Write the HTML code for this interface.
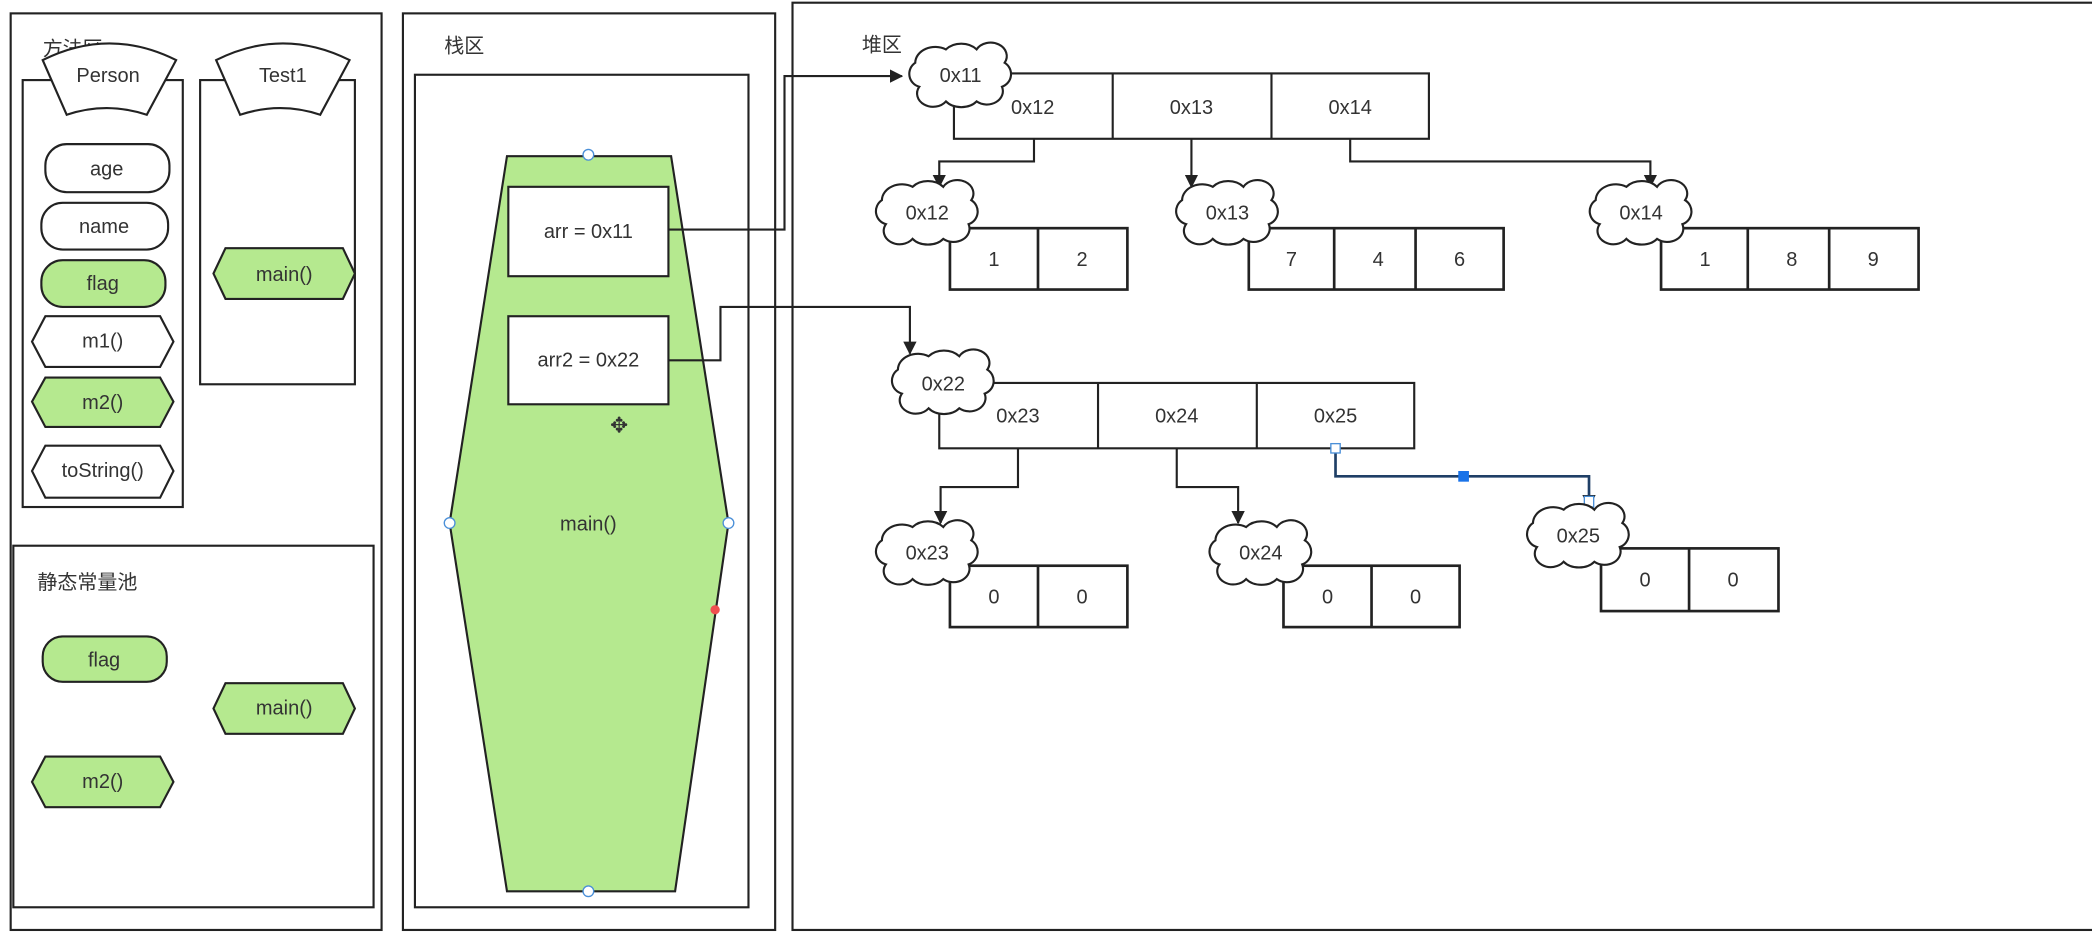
<!DOCTYPE html>
<html><head><meta charset="utf-8"><style>
html,body{margin:0;padding:0;background:#fff;}
svg{display:block;}
text{font-family:"Liberation Sans","Noto Sans CJK SC",sans-serif;font-size:15px;fill:#333;text-anchor:middle;dominant-baseline:central;}
</style></head><body>
<svg width="2092" height="944" viewBox="0 0 1568 707.5" xmlns="http://www.w3.org/2000/svg">
<defs>
<path id="cl" d="M -31,8 a10,10 0 0 1 -3,-18 a15,12 0 0 1 23,-10 a15,12 0 0 1 23,0 a12,10 0 0 1 21,10 a10,10 0 0 1 -2,18 a12,10 0 0 1 -19,11 a14,10 0 0 1 -23,0 a12,10 0 0 1 -20,-11 z" fill="#fff" stroke="#222" stroke-width="1.6"/>
<marker id="ar" markerWidth="10" markerHeight="10" refX="9" refY="5" orient="auto" markerUnits="userSpaceOnUse"><path d="M0,0 L10,5 L0,10 z" fill="#222"/></marker>
</defs>
<rect width="1568" height="707.5" fill="#fff"/>
<g fill="none" stroke="#222" stroke-width="1.6">
<rect x="8" y="10" width="278" height="687"/>
<rect x="17" y="60" width="120" height="320"/>
<rect x="150" y="60" width="116" height="228"/>
<rect x="10" y="409" width="270" height="271"/>
<rect x="302" y="10" width="279" height="687"/>
<rect x="311" y="56" width="250" height="624"/>
<rect x="594" y="2" width="980" height="695"/>
</g>
<text x="32" y="37" style="text-anchor:start">方法区</text>
<path d="M32,45 Q82,20 132,45 L110,86 Q80,76 50,86 Z" fill="#fff" stroke="#222" stroke-width="1.6"/>
<text x="81" y="57">Person</text>
<path d="M162,45 Q212,20 262,45 L240,86 Q210,76 180,86 Z" fill="#fff" stroke="#222" stroke-width="1.6"/>
<text x="212" y="57">Test1</text>
<g stroke="#222" stroke-width="1.6">
<rect x="34" y="108" width="93" height="36" rx="16" fill="#fff"/>
<rect x="31" y="152" width="95" height="35" rx="16" fill="#fff"/>
<rect x="31" y="195" width="93" height="35" rx="16" fill="#b5e98f"/>
<polygon points="34,237 120,237 130,256 120,275 34,275 24,256" fill="#fff"/>
<polygon points="34,283 120,283 130,301 120,320 34,320 24,301" fill="#b5e98f"/>
<polygon points="34,334 120,334 130,353 120,373 34,373 24,353" fill="#fff"/>
<polygon points="169,186 257,186 266,205 257,224 169,224 160,205" fill="#b5e98f"/>
<rect x="32" y="477" width="93" height="34" rx="15" fill="#b5e98f"/>
<polygon points="169,512 257,512 266,531 257,550 169,550 160,531" fill="#b5e98f"/>
<polygon points="34,567 120,567 130,586 120,605 34,605 24,586" fill="#b5e98f"/>
</g>
<text x="80" y="127">age</text>
<text x="78" y="170">name</text>
<text x="77" y="213">flag</text>
<text x="77" y="256">m1()</text>
<text x="77" y="302">m2()</text>
<text x="77" y="353">toString()</text>
<text x="213" y="206">main()</text>
<text x="28" y="437" style="text-anchor:start">静态常量池</text>
<text x="78" y="495">flag</text>
<text x="213" y="531">main()</text>
<text x="77" y="586">m2()</text>
<text x="348" y="35">栈区</text>
<polygon points="380,117 503,117 546,392 506,668 380,668 337,392" fill="#b5e98f" stroke="#222" stroke-width="1.6"/>
<rect x="381" y="140" width="120" height="67" fill="#fff" stroke="#222" stroke-width="1.6"/>
<rect x="381" y="237" width="120" height="66" fill="#fff" stroke="#222" stroke-width="1.6"/>
<text x="441" y="174">arr = 0x11</text>
<text x="441" y="270">arr2 = 0x22</text>
<text x="441" y="393">main()</text>
<g fill="#fff" stroke="#4a8fd8" stroke-width="1"><circle cx="441" cy="116" r="4"/><circle cx="337" cy="392" r="4"/><circle cx="546" cy="392" r="4"/><circle cx="441" cy="668" r="4"/></g>
<circle cx="536" cy="457" r="3.5" fill="#f05050"/>
<text x="464" y="319" style="font-size:16px">✥</text>
<text x="661" y="34">堆区</text>
<g fill="none" stroke="#222" stroke-width="1.6">
<polyline points="501,172 588,172 588,57 676,57" marker-end="url(#ar)"/>
<polyline points="501,270 540,270 540,230 682,230 682,265" marker-end="url(#ar)"/>
<rect x="715" y="55" width="356" height="49"/><line x1="834" y1="55" x2="834" y2="104"/><line x1="953" y1="55" x2="953" y2="104"/>
<polyline points="775,104 775,121 704,121 704,140" marker-end="url(#ar)"/>
<polyline points="893,104 893,140" marker-end="url(#ar)"/>
<polyline points="1012,104 1012,121 1237,121 1237,140" marker-end="url(#ar)"/>
<rect x="704" y="287" width="356" height="49"/><line x1="823" y1="287" x2="823" y2="336"/><line x1="942" y1="287" x2="942" y2="336"/>
<polyline points="763,336 763,365 705,365 705,392" marker-end="url(#ar)"/>
<polyline points="882,336 882,365 928,365 928,392" marker-end="url(#ar)"/>
</g>
<polyline points="1001,336 1001,357 1191,357 1191,380" fill="none" stroke="#1f3f66" stroke-width="2" marker-end="url(#ar)"/>
<rect x="997.5" y="332.5" width="7" height="7" fill="#fff" stroke="#4a8fd8"/>
<rect x="1093" y="353" width="8" height="8" fill="#1a73e8"/>
<rect x="1187.5" y="372" width="7" height="8" fill="#fff" stroke="#4a8fd8"/>
<g fill="#fff" stroke="#222" stroke-width="2">
<rect x="712" y="171" width="133" height="46"/><line x1="778" y1="171" x2="778" y2="217"/>
<rect x="936" y="171" width="191" height="46"/><line x1="1000" y1="171" x2="1000" y2="217"/><line x1="1061" y1="171" x2="1061" y2="217"/>
<rect x="1245" y="171" width="193" height="46"/><line x1="1310" y1="171" x2="1310" y2="217"/><line x1="1371" y1="171" x2="1371" y2="217"/>
<rect x="712" y="424" width="133" height="46"/><line x1="778" y1="424" x2="778" y2="470"/>
<rect x="962" y="424" width="132" height="46"/><line x1="1028" y1="424" x2="1028" y2="470"/>
<rect x="1200" y="411" width="133" height="47"/><line x1="1266" y1="411" x2="1266" y2="458"/>
</g>
<use href="#cl" x="720" y="57"/>
<use href="#cl" x="695" y="160"/>
<use href="#cl" x="920" y="160"/>
<use href="#cl" x="1230" y="160"/>
<use href="#cl" x="707" y="287"/>
<use href="#cl" x="695" y="415"/>
<use href="#cl" x="945" y="415"/>
<use href="#cl" x="1183" y="402"/>
<text x="720" y="57">0x11</text>
<text x="774" y="81">0x12</text><text x="893" y="81">0x13</text><text x="1012" y="81">0x14</text>
<text x="695" y="160">0x12</text><text x="920" y="160">0x13</text><text x="1230" y="160">0x14</text>
<text x="745" y="195">1</text><text x="811" y="195">2</text>
<text x="968" y="195">7</text><text x="1033" y="195">4</text><text x="1094" y="195">6</text>
<text x="1278" y="195">1</text><text x="1343" y="195">8</text><text x="1404" y="195">9</text>
<text x="707" y="288">0x22</text>
<text x="763" y="312">0x23</text><text x="882" y="312">0x24</text><text x="1001" y="312">0x25</text>
<text x="695" y="415">0x23</text><text x="945" y="415">0x24</text><text x="1183" y="402">0x25</text>
<text x="745" y="448">0</text><text x="811" y="448">0</text>
<text x="995" y="448">0</text><text x="1061" y="448">0</text>
<text x="1233" y="435">0</text><text x="1299" y="435">0</text>
</svg>
</body></html>
